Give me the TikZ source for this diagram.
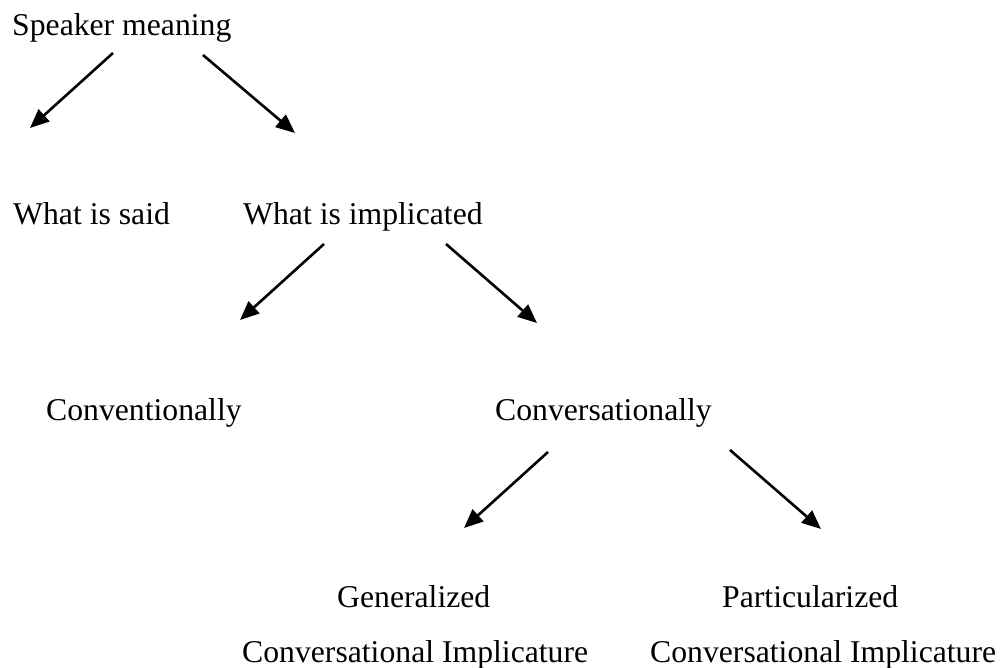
\documentclass[tikz,border=0pt]{standalone}
\usepackage{fontspec}
\setmainfont{Liberation Serif}
\usetikzlibrary{arrows.meta}
\begin{document}
\begin{tikzpicture}[x=1pt,y=-1pt,
  lbl/.style={anchor=base west,inner sep=0pt,font=\fontsize{31.7}{38}\selectfont},
  arr/.style={line width=2.6pt,-{Triangle[length=19pt,width=16pt]}}]
\useasboundingbox (0,0) rectangle (1005,668);
\node[lbl] (sm) at (12,36) {Speaker meaning};
\node[lbl] (ws) at (13,225) {What is said};
\node[lbl] (wi) at (243,225) {What is implicated};
\node[lbl] (cv) at (46,421) {Conventionally};
\node[lbl] (cs) at (495,421) {Conversationally};
\node[lbl] (ge) at (337,607) {Generalized};
\node[lbl] (gc) at (242,662) {Conversational Implicature};
\node[lbl] (pa) at (722,607) {Particularized};
\node[lbl] (pc) at (650,662) {Conversational Implicature};
\coordinate (a1s) at (113,53); \coordinate (a1e) at (30,128);
\coordinate (a2s) at (203,55); \coordinate (a2e) at (295,133);
\coordinate (a3s) at (324,244); \coordinate (a3e) at (240,320);
\coordinate (a4s) at (446,244); \coordinate (a4e) at (537,323);
\coordinate (a5s) at (548,452); \coordinate (a5e) at (464,528);
\coordinate (a6s) at (730,450); \coordinate (a6e) at (821,529);
\draw[arr] (a1s) -- (a1e);
\draw[arr] (a2s) -- (a2e);
\draw[arr] (a3s) -- (a3e);
\draw[arr] (a4s) -- (a4e);
\draw[arr] (a5s) -- (a5e);
\draw[arr] (a6s) -- (a6e);
\end{tikzpicture}
\end{document}
